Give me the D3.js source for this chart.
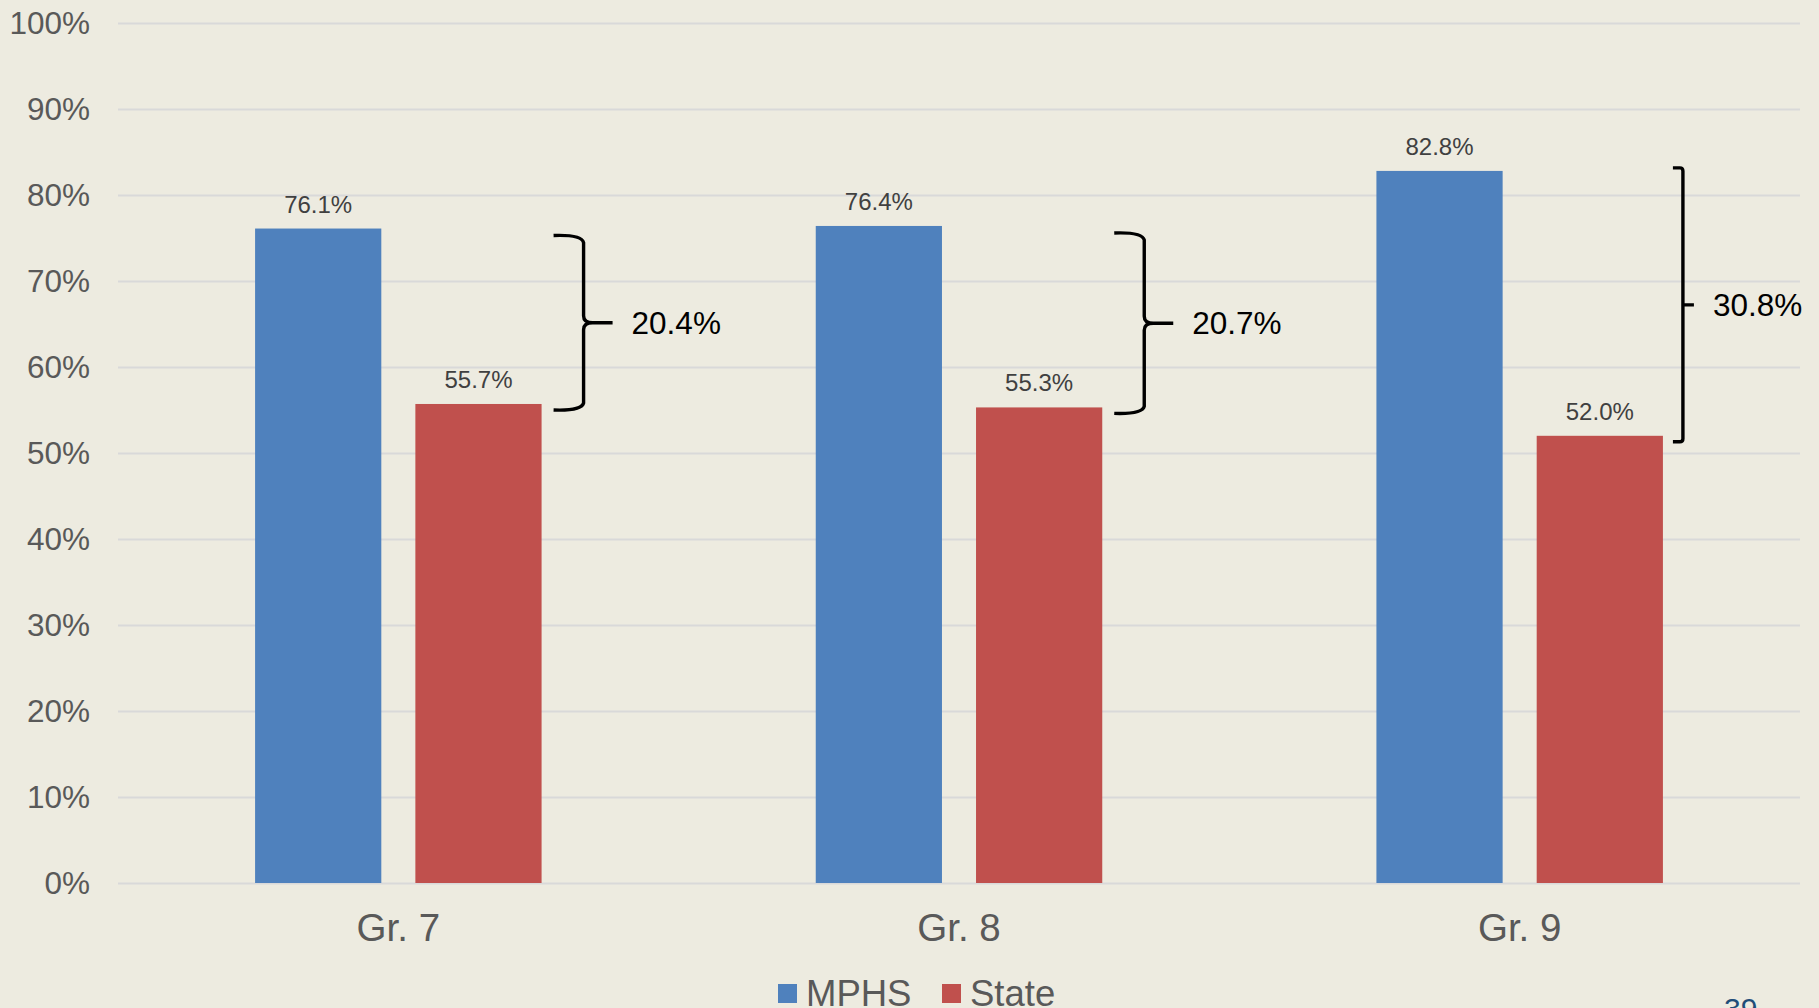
<!DOCTYPE html>
<html>
<head>
<meta charset="utf-8">
<script src="https://cdn.jsdelivr.net/npm/d3@7"></script>
<style>
  html, body { margin: 0; padding: 0; background: #EDEBE0; }
  svg { display: block; font-family: "Liberation Sans", Arial, sans-serif; }
</style>
</head>
<body>
<svg id="chart" width="1819" height="1008"></svg>
<script>
// Grade levels and the two series compared for each
const categories = ["Gr. 7", "Gr. 8", "Gr. 9"];
const seriesNames = ["MPHS", "State"];
const mphsValues = [76.1, 76.4, 82.8];
const stateValues = [55.7, 55.3, 52.0];
const seriesColors = ["#4F81BD", "#C0504D"];

// Gap annotations drawn beside each pair of bars
const gapLabels = ["20.4%", "20.7%", "30.8%"];
const braceKinds = ["curly", "curly", "square"];

// Y axis ticks
const yTicks = [0, 10, 20, 30, 40, 50, 60, 70, 80, 90, 100];
const yTickLabels = ["0%", "10%", "20%", "30%", "40%", "50%", "60%", "70%", "80%", "90%", "100%"];

const pageNumber = "39";

const svg = d3.select("#chart");
const W = 1819, H = 1008;
const plot = { left: 118, right: 1800, top: 23, bottom: 883 };

svg.append("rect").attr("width", W).attr("height", H).attr("fill", "#EDEBE0");

const y = d3.scaleLinear().domain([0, 100]).range([plot.bottom, plot.top]);
const x0 = d3.scaleBand().domain(categories).range([plot.left, plot.right]).padding(0);
// Pair of bars sits in the middle of each category band
const bw = x0.bandwidth();
const x1 = d3.scaleBand().domain(seriesNames)
  .range([bw * 0.2445, bw * 0.7555])
  .paddingInner(0.2125).paddingOuter(0);

// Gridlines
const grid = svg.append("g")
  .attr("transform", `translate(${plot.left},0)`)
  .call(d3.axisLeft(y).tickValues(yTicks).tickSize(-(plot.right - plot.left)).tickFormat(""));
grid.select(".domain").remove();
grid.selectAll(".tick line").attr("stroke", "#D9D9D9").attr("stroke-width", 2);

// Y tick labels
const yAxis = svg.append("g")
  .attr("transform", `translate(${plot.left},0)`)
  .call(d3.axisLeft(y).tickValues(yTicks).tickSize(0).tickPadding(28)
    .tickFormat((d, i) => yTickLabels[i]));
yAxis.select(".domain").remove();
yAxis.selectAll("text").attr("font-size", 31.5).attr("fill", "#595959")
  .attr("font-family", "'Liberation Sans', Arial, sans-serif");

// Bars
const rows = categories.map((c, i) => ({ cat: c, vals: [mphsValues[i], stateValues[i]], i }));
const groups = svg.append("g").selectAll("g").data(rows).join("g")
  .attr("transform", d => `translate(${x0(d.cat)},0)`);

groups.selectAll("rect").data(d => d.vals.map((v, k) => ({ v, k })))
  .join("rect")
  .attr("x", d => x1(seriesNames[d.k]))
  .attr("width", x1.bandwidth())
  .attr("y", d => y(d.v))
  .attr("height", d => y(0) - y(d.v))
  .attr("fill", d => seriesColors[d.k]);

// Value labels
groups.selectAll("text.val").data(d => d.vals.map((v, k) => ({ v, k })))
  .join("text")
  .attr("class", "val")
  .attr("x", d => x1(seriesNames[d.k]) + x1.bandwidth() / 2)
  .attr("y", d => y(d.v) - 16)
  .attr("text-anchor", "middle")
  .attr("font-size", 24)
  .attr("fill", "#404040")
  .text(d => d.v.toFixed(1) + "%");

// Category axis
const xAxis = svg.append("g")
  .attr("transform", `translate(0,${plot.bottom})`)
  .call(d3.axisBottom(x0).tickSize(0).tickPadding(0));
xAxis.select(".domain").remove();
xAxis.selectAll("text")
  .attr("y", 58).attr("dy", 0)
  .attr("font-size", 38.5).attr("fill", "#595959")
  .attr("font-family", "'Liberation Sans', Arial, sans-serif");

// Gap braces between the two bars of each grade
const braces = svg.append("g");
rows.forEach((d, i) => {
  const redRight = x0(d.cat) + x1(seriesNames[1]) + x1.bandwidth();
  const kind = braceKinds[i];
  let top, bottom, x0b, xv, xc;
  if (kind === "curly") {
    top = y(mphsValues[i]) + 7;
    bottom = y(stateValues[i]) + 6;
    x0b = redRight + 12; xv = redRight + 42; xc = redRight + 71;
  } else {
    top = y(mphsValues[i]) - 3;
    bottom = y(stateValues[i]) + 6;
    x0b = redRight + 10; xv = redRight + 20; xc = redRight + 31;
  }
  const mid = (top + bottom) / 2;
  const p = d3.path();
  if (kind === "curly") {
    const r = 7;
    p.moveTo(x0b, top);
    p.quadraticCurveTo(xv - 2, top - 1, xv, top + r);
    p.lineTo(xv, mid - r);
    p.quadraticCurveTo(xv, mid, xv + r + 2, mid);
    p.lineTo(xc, mid);
    p.moveTo(xv + r + 2, mid);
    p.quadraticCurveTo(xv, mid, xv, mid + r);
    p.lineTo(xv, bottom - r);
    p.quadraticCurveTo(xv - 2, bottom + 1, x0b, bottom);
  } else {
    const r = 3;
    p.moveTo(x0b, top);
    p.lineTo(xv - r, top);
    p.quadraticCurveTo(xv, top, xv, top + r);
    p.lineTo(xv, bottom - r);
    p.quadraticCurveTo(xv, bottom, xv - r, bottom);
    p.lineTo(x0b, bottom);
    p.moveTo(xv, mid);
    p.lineTo(xc, mid);
  }
  braces.append("path").attr("d", p.toString())
    .attr("fill", "none").attr("stroke", "#000").attr("stroke-width", 3.4)
    .attr("stroke-linecap", "butt").attr("stroke-linejoin", "round");
  braces.append("text")
    .attr("x", xc + 19).attr("y", mid + 11)
    .attr("font-size", 31.5).attr("fill", "#000")
    .text(gapLabels[i]);
});

// Legend
const legend = svg.append("g").attr("transform", "translate(778,984)");
const legendX = [0, 164];
seriesNames.forEach((s, k) => {
  legend.append("rect").attr("x", legendX[k]).attr("y", 0)
    .attr("width", 19).attr("height", 19).attr("fill", seriesColors[k]);
  legend.append("text").attr("x", legendX[k] + 28).attr("y", 22)
    .attr("font-size", 36.5).attr("fill", "#595959").text(s);
});

// Slide page number
svg.append("text").attr("x", 1724).attr("y", 1019)
  .attr("font-size", 30).attr("fill", "#1F4E79").text(pageNumber);
</script>
</body>
</html>
